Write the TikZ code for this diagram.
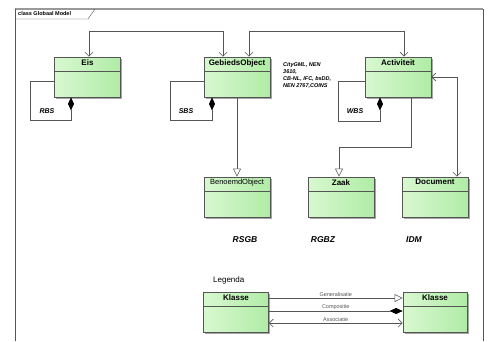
\documentclass[tikz,border=0pt]{standalone}
\usepackage{fontspec}
\setmainfont{Liberation Sans}
\usepackage{tikz}
\usetikzlibrary{arrows.meta, shadows}
\definecolor{boxl}{HTML}{D8F8D0}
\definecolor{boxr}{HTML}{B0ECA6}
\definecolor{lijn}{HTML}{555555}

\tikzset{
  klasse/.style={draw=lijn, thick, minimum width=66pt, minimum height=40pt,
    left color=boxl, right color=boxr, inner sep=0pt,
    drop shadow={shadow xshift=1.5pt, shadow yshift=-1.5pt, fill=gray!70, opacity=1},
    path picture={\draw[lijn] ([yshift=-14pt]path picture bounding box.north west)
      -- ([yshift=-14pt]path picture bounding box.north east);}},
  kop/.style={anchor=north, inner sep=2.5pt, font=\fontsize{8}{9}\selectfont\bfseries},
  assoc/.style={lijn, semithick, {Straight Barb[length=4pt,width=8pt]}-{Straight Barb[length=4pt,width=8pt]}},
  comp/.style={lijn, semithick, -{Diamond[length=13pt,width=6pt,color=black,fill=black]}},
  gen/.style={lijn, semithick, -{Triangle[length=8pt,width=8pt,fill=white]}},
  rol/.style={font=\fontsize{7}{8}\selectfont\bfseries\itshape},
  bron/.style={font=\fontsize{8.5}{9}\selectfont\bfseries\itshape},
  klein/.style={font=\fontsize{5.5}{6}\selectfont, inner sep=1pt}
}

\begin{document}
\begin{tikzpicture}[x=1pt, y=-1pt]
  \useasboundingbox (0,0) rectangle (489,341);

  % Frame with tab
  \draw[gray!80, line width=1.2pt] (15,9) -- (483,9);
  \draw[lijn, line width=0.8pt] (15,341) -- (15,9) (483,9) -- (483,341);
  \draw[lijn] (15,19) -- (88,19) -- (95,9);
  \node[anchor=west, font=\fontsize{5.5}{6}\selectfont\bfseries, inner sep=0pt] (tab) at (18,14) {class Globaal Model};

  % Classes
  \node[klasse, label={[kop]north:Eis}] (eis) at (87.5,77) {};
  \node[klasse, label={[kop]north:GebiedsObject}] (geb) at (237,77) {};
  \node[klasse, label={[kop]north:Activiteit}] (act) at (398,77) {};
  \node[klasse, label={[kop, font=\fontsize{7.5}{9}\selectfont]north:BenoemdObject}] (ben) at (237,197) {};
  \node[klasse, label={[kop]north:Zaak}] (zaak) at (341,197) {};
  \node[klasse, label={[kop]north:Document}] (doc) at (435,197) {};

  % Associations
  \draw[assoc] ([xshift=1.5pt]eis.north) -- ++(0,-25) -| ([xshift=-14pt]geb.north);
  \draw[assoc] ([xshift=12pt]geb.north) -- ++(0,-25) -| ([xshift=6pt]act.north);
  \draw[assoc] (act.east) -| ([xshift=22pt]doc.north);

  % Decomposition (self loops)
  \draw[comp] ([yshift=-4pt]eis.west) -| ++(-24,39) -| ([xshift=-16.5pt]eis.south);
  \draw[comp] ([yshift=-4pt]geb.west) -| ++(-33,39) -| ([xshift=-25pt]geb.south);
  \draw[comp] ([yshift=-4pt]act.west) -| ++(-26,40) -| ([xshift=-18pt]act.south);
  \node[rol] (rbs) at (47,111) {RBS};
  \node[rol] (sbs) at (186,111) {SBS};
  \node[rol] (wbs) at (355,111) {WBS};

  % Generalisations
  \draw[gen] (geb.south) -- (ben.north);
  \draw[gen] ([xshift=13pt]act.south) -- ++(0,50) -| ([xshift=-2pt]zaak.north);

  % Standards
  \node[anchor=north west, align=left, inner sep=0pt,
    font=\fontsize{5.5}{7}\selectfont\bfseries\itshape] (std) at (283,62)
    {CityGML, NEN\\3610,\\CB-NL, IFC, bsDD,\\NEN 2767,COINS};
  \node[bron] (rsgb) at (245,240) {RSGB};
  \node[bron] (rgbz) at (323,240) {RGBZ};
  \node[bron] (idm) at (414,240) {IDM};

  % Legend
  \node[anchor=west, inner sep=0pt, font=\fontsize{8}{9}\selectfont] (leg) at (213,280) {Legenda};
  \node[klasse, minimum width=65pt, label={[kop]north:Klasse}] (k1) at (236,312) {};
  \node[klasse, minimum width=64pt, label={[kop]north:Klasse}] (k2) at (435,312) {};
  \draw[gen] ([yshift=14pt]k1.east) -- node[klein, above] {Generalisatie} ([yshift=14pt]k2.west);
  \draw[comp] ([yshift=1pt]k1.east) -- node[klein, above] {Compositie} ([yshift=1pt]k2.west);
  \draw[assoc] ([yshift=-11pt]k1.east) -- node[klein, above] {Associatie} ([yshift=-11pt]k2.west);

\end{tikzpicture}
\end{document}
